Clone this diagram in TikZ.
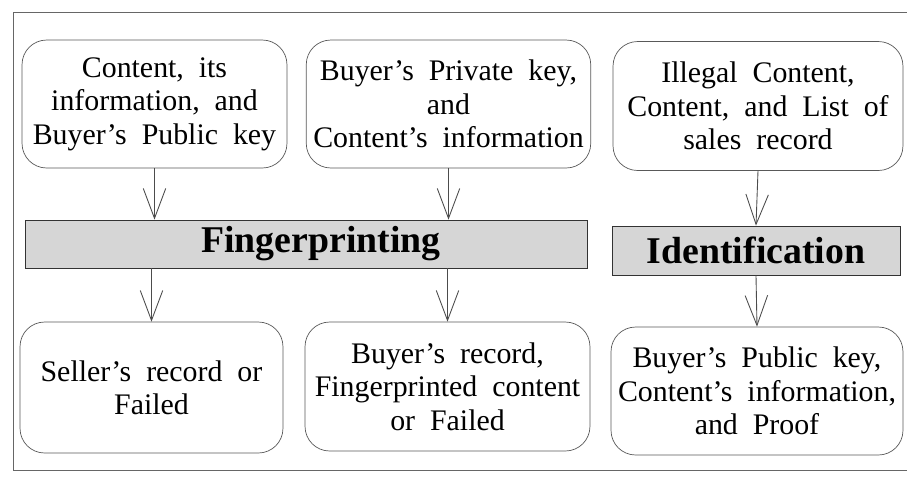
\documentclass[tikz,border=0pt]{standalone}
\usepackage{fontspec}
\setmainfont{Liberation Serif}
\usepackage{xcolor}
\usetikzlibrary{arrows.meta}
\definecolor{scangray}{HTML}{D6D6D6}
\newcommand{\boxtextfont}{\fontsize{17}{19}\selectfont\fontdimen2\font=0.5em}

\begin{document}
\begin{tikzpicture}[x=0.02cm, y=-0.02cm,
    databox/.style={draw=black!65, rounded corners=14pt, align=center, inner sep=4pt,
        font=\boxtextfont},
    stagebox/.style={draw=black!80, fill=scangray, inner sep=0pt,
        font=\fontsize{21.5}{24}\selectfont\bfseries},
    flow/.style={draw=black!70, line width=0.5pt, -{Straight Barb[length=6mm, width=4.5mm]}}]
    \useasboundingbox (0,0) rectangle (907,485);
    % frame
    \draw[black!60] (907,12) -- (13,12) -- (13,470) -- (907,470);
    % inputs
    \node[databox, minimum width=5.3cm, minimum height=2.56cm] (in1) at (154.5,104)
        {Content, its\\ information, and\\ Buyer's Public key};
    \node[databox, minimum width=5.66cm, minimum height=2.56cm] (in2) at (448.5,104)
        {Buyer's Private key,\\ and\\ Content's information};
    \node[databox, minimum width=5.8cm, minimum height=2.58cm] (in3) at (758,106)
        {Illegal Content,\\ Content, and List of\\ sales record};
    % stages
    \node[stagebox, minimum width=11.24cm, minimum height=0.96cm] (fp) at (306,244)
        {\hspace*{0.6cm}Fingerprinting};
    \node[stagebox, minimum width=5.76cm, minimum height=0.98cm] (ident) at (756,250.5) {Identification};
    % outputs
    \node[databox, minimum width=5.26cm, minimum height=2.62cm] (out1) at (151.5,387.5)
        {Seller's record or\\ Failed};
    \node[databox, minimum width=5.7cm, minimum height=2.58cm] (out2) at (447.5,386.5)
        {Buyer's record,\\ Fingerprinted content\\ or Failed};
    \node[databox, minimum width=5.8cm, minimum height=2.56cm] (out3) at (757,391)
        {Buyer's Public key,\\ Content's information,\\ and Proof};
    % arrows
    \draw[flow] (in1.south) -- (in1.south |- fp.north);
    \draw[flow] (in2.south) -- (in2.south |- fp.north);
    \draw[flow] (in3.south) -- (ident.north);
    \draw[flow] (fp.south -| out1.north) -- (out1.north);
    \draw[flow] (fp.south -| out2.north) -- (out2.north);
    \draw[flow] (ident.south) -- (out3.north);
\end{tikzpicture}
\end{document}
